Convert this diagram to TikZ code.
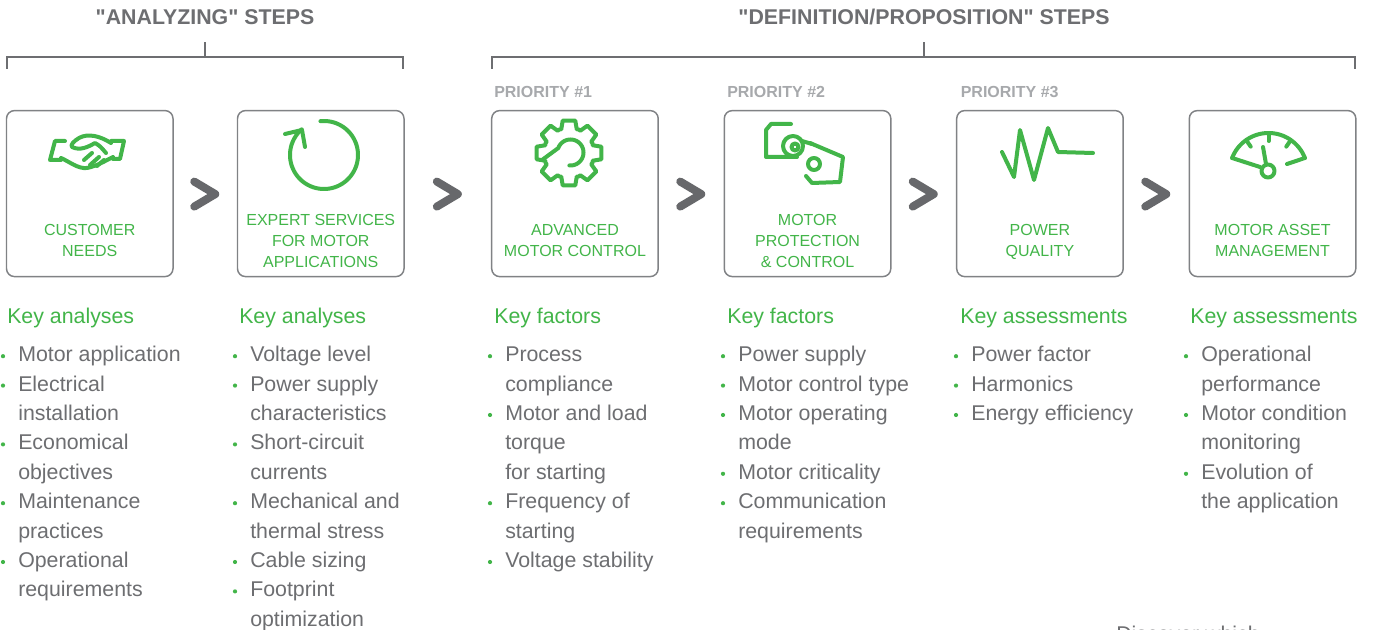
\documentclass[tikz,border=0pt]{standalone}
\usepackage{fontspec}
\setmainfont{Liberation Sans}
\newfontfamily\hdrfont{Liberation Sans}[Ligatures=TeXOff]
\usetikzlibrary{calc}
\definecolor{sgreen}{HTML}{42B549}
\definecolor{tgray}{HTML}{6D6E71}
\definecolor{bgray}{HTML}{808285}
\definecolor{pgray}{HTML}{A7A9AC}
\definecolor{cgray}{HTML}{67686B}

\newcommand\keycol[5]{%
  \node[keyhead] (#1h) at (#2,324) {#4};
  \foreach \b/\t [count=\i] in {#5} {
    \node[keytxt] (#1l\i) at (#3,{361.7+(\i-1)*29.4}) {\t};
    \ifnum\b=1 \fill[sgreen] ($(#1l\i.base west)+(-15,-5.5)$) circle[radius=2.1]; \fi
  }%
}
\newcommand\boxlab[4]{%
  \foreach \t [count=\i] in {#4} {
    \node[boxtxt] (#1t\i) at (#2,{#3+(\i-1)*20.7}) {\t};
  }%
}

\begin{document}
\begin{tikzpicture}[x=0.75pt,y=-0.75pt,
  stepbox/.style={draw=bgray, line width=1.1pt, rounded corners=6pt, minimum width=124.9pt, minimum height=124.5pt, inner sep=0pt},
  boxtxt/.style={text=sgreen, font=\fontsize{12}{14}\selectfont, anchor=base, inner sep=0pt},
  keyhead/.style={text=sgreen, font=\fontsize{16}{19}\selectfont, anchor=base west, inner sep=0pt},
  keytxt/.style={text=tgray, font=\fontsize{16}{19}\selectfont, anchor=base west, inner sep=0pt},
  hdr/.style={text=tgray, font=\hdrfont\bfseries\fontsize{16}{19}\selectfont, anchor=base, inner sep=0pt},
  prio/.style={text=pgray, font=\bfseries\fontsize{12}{14}\selectfont, anchor=base west, inner sep=0pt},
  chev/.style={draw=cgray, line width=6pt, line cap=round, line join=round},
  brk/.style={draw=tgray, line width=1.5pt},
  icon/.style={draw=sgreen, line width=3pt, line cap=round, line join=round}]

\fill[white] (0,0) rectangle (1375,630);
\useasboundingbox (0,0) rectangle (1375,630);

% headers and brackets
\node[hdr] (hA) at (205,25) {"ANALYZING" STEPS};
\node[hdr] (hB) at (924,25) {"DEFINITION/PROPOSITION" STEPS};
\draw[brk] (7,69) -- (7,57) -- (403,57) -- (403,69);
\draw[brk] (205,57) -- (205,42);
\draw[brk] (492,69) -- (492,57) -- (1355,57) -- (1355,69);
\draw[brk] (924,57) -- (924,42);

% priorities
\node[prio] (p1) at (494,97.5) {PRIORITY \#1};
\node[prio] (p2) at (727,97.5) {PRIORITY \#2};
\node[prio] (p3) at (960.5,97.5) {PRIORITY \#3};

% boxes
\node[stepbox] (b1) at (89.75,193.6) {};
\node[stepbox] (b2) at (320.75,193.6) {};
\node[stepbox] (b3) at (574.95,193.6) {};
\node[stepbox] (b4) at (807.55,193.6) {};
\node[stepbox] (b5) at (1039.95,193.6) {};
\node[stepbox] (b6) at (1272.55,193.6) {};

\boxlab{b1}{89.75}{235.7}{CUSTOMER,NEEDS}
\boxlab{b2}{320.75}{226}{EXPERT SERVICES,FOR MOTOR,APPLICATIONS}
\boxlab{b3}{574.95}{236}{ADVANCED,MOTOR CONTROL}
\boxlab{b4}{807.55}{226}{MOTOR,PROTECTION,\& CONTROL}
\boxlab{b5}{1039.95}{236}{POWER,QUALITY}
\boxlab{b6}{1272.55}{236}{MOTOR ASSET,MANAGEMENT}

% chevrons
\foreach \u/\v [count=\k] in {b1/b2,b2/b3,b3/b4,b4/b5,b5/b6} {
  \coordinate (ch\k) at ($(\u.east)!0.5!(\v.west)+(0,0.5)$);
  \draw[chev] ($(ch\k)+(-11,-12.5)$) -- ($(ch\k)+(10,0)$) -- ($(ch\k)+(-11,12.5)$);
}

% icon: handshake
\draw[icon] (65,141) -- (55,141) -- (50,160) -- (61,160);
\draw[icon] (111,141) -- (124,141) -- (120,159) -- (113,159);
\draw[icon] (111,143) .. controls (100,136) and (88,133) .. (79,138) .. controls (74,141) and (70,145) .. (72,147) .. controls (80,151) and (88,147) .. (95,143) .. controls (100,146) .. (106,153);
\draw[icon] (61,158) .. controls (70,162) and (78,169) .. (87,168) .. controls (97,166) and (105,161) .. (113,157);
\draw[icon] (84,160) -- (92,153);
\draw[icon] (90,165) -- (99,157);
\draw[icon] (97,166) -- (104,160);

% icon: circular arrow
\draw[icon] plot[domain=-96:229, samples=90] ({324+34*cos(\x)},{155+34*sin(\x)});
\draw[icon] (285,134) -- (302,130) -- (305,147);

% icon: gear
\draw[icon, shift={(569,153)}] ({-18}:25) \foreach \a in {0,45,...,315} { -- ({\a-18}:25) -- ({\a-11}:33) -- ({\a+11}:33) -- ({\a+18}:25) -- ({\a+22.5}:25.4) } -- cycle;
\draw[icon] (542,160) -- plot[domain=200:455, samples=60] ({570.5+13*cos(\x)},{152.5+13*sin(\x)});

% icon: money
\draw[icon] (791,124) -- (771,124) -- (766,130) -- (766,157) -- (797,157);
\draw[icon] (793,146) circle[radius=10];
\draw[icon] (795,147) circle[radius=3.5];
\draw[icon] (802,141) -- (812,144);
\draw[icon] (810,143) -- (843,157) -- (840,182) -- (812,183) -- (806,176);
\draw[icon] (814,164) circle[radius=6];

% icon: power quality
\draw[icon] (1002,152) -- (1014,177) -- (1020,130) -- (1034,180) -- (1048,128) -- (1058,152) -- (1093,153);

% icon: gauge
\draw[icon] plot[domain=201:339, samples=60] ({1268.5+39*cos(\x)},{172+39*sin(\x)});
\draw[icon] (1232.1,158) -- (1260,167);
\draw[icon] (1304.9,158) -- (1287,164);
\draw[icon] (1268,171) circle[radius=6.5];
\draw[icon] (1263,147) -- (1266,164);
\foreach \a in {235,270,305} {
  \draw[icon] ({1268.5+38*cos(\a)},{172+38*sin(\a)}) -- ({1268.5+31*cos(\a)},{172+31*sin(\a)});
}

% key lists
\keycol{c1}{7}{18}{Key analyses}{1/Motor application,1/Electrical,0/installation,1/Economical,0/objectives,1/Maintenance,0/practices,1/Operational,0/requirements}
\keycol{c2}{239}{250}{Key analyses}{1/Voltage level,1/Power supply,0/characteristics,1/Short-circuit,0/currents,1/Mechanical and,0/thermal stress,1/Cable sizing,1/Footprint,0/optimization}
\keycol{c3}{494}{505}{Key factors}{1/Process,0/compliance,1/Motor and load,0/torque,0/for starting,1/Frequency of,0/starting,1/Voltage stability}
\keycol{c4}{727}{738}{Key factors}{1/Power supply,1/Motor control type,1/Motor operating,0/mode,1/Motor criticality,1/Communication,0/requirements}
\keycol{c5}{960}{971}{Key assessments}{1/Power factor,1/Harmonics,1/Energy efficiency}
\keycol{c6}{1190}{1201}{Key assessments}{1/Operational,0/performance,1/Motor condition,0/monitoring,1/Evolution of,0/the application}

% cut-off text at the bottom edge, as in the reference
\begin{scope}
\clip (0,0) rectangle (1375,630);
\node[keytxt] (disc) at (1116,642) {Discover which};
\end{scope}
\end{tikzpicture}
\end{document}
